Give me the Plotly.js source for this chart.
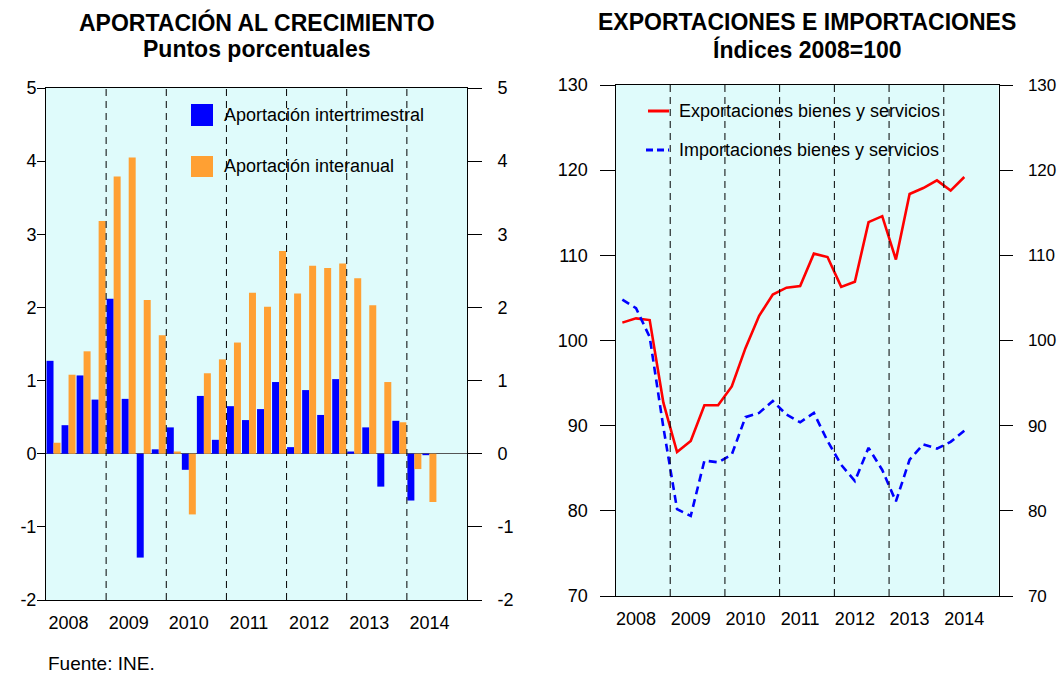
<!DOCTYPE html>
<html><head><meta charset="utf-8">
<script src="https://cdn.plot.ly/plotly-3.0.1.min.js"></script>
<style>html,body{margin:0;padding:0;background:#fff}#chart{width:1061px;height:674px}</style>
</head><body><div id="chart"></div>
<script>
// ---- data ----
const years = [2008, 2009, 2010, 2011, 2012, 2013, 2014];
const quarters = [
  "2008T1","2008T2","2008T3","2008T4",
  "2009T1","2009T2","2009T3","2009T4",
  "2010T1","2010T2","2010T3","2010T4",
  "2011T1","2011T2","2011T3","2011T4",
  "2012T1","2012T2","2012T3","2012T4",
  "2013T1","2013T2","2013T3","2013T4",
  "2014T1","2014T2"
];
const aportIntertrimestral = [
  1.27, 0.39, 1.07, 0.74,
  2.12, 0.75, -1.42, 0.06,
  0.36, -0.22, 0.79, 0.19,
  0.65, 0.46, 0.61, 0.98,
  0.09, 0.87, 0.53, 1.02,
  0.03, 0.36, -0.45, 0.45,
  -0.64, -0.02
];
const aportInteranual = [
  0.15, 1.08, 1.40, 3.18,
  3.79, 4.05, 2.10, 1.62,
  0.03, -0.83, 1.10, 1.29,
  1.52, 2.20, 2.01, 2.77,
  2.19, 2.57, 2.54, 2.60,
  2.40, 2.03, 0.98, 0.43,
  -0.21, -0.66
];
const exportaciones = [
  102.1, 102.6, 102.4, 92.7,
  86.9, 88.2, 92.4, 92.4,
  94.6, 99.1, 102.9, 105.4,
  106.2, 106.4, 110.2, 109.8,
  106.3, 106.9, 113.9, 114.6,
  109.5, 117.2, 117.9, 118.8,
  117.6, 119.2
];
const importaciones = [
  104.8, 103.8, 100.4, 89.8,
  80.2, 79.4, 85.9, 85.7,
  86.6, 91.0, 91.5, 92.9,
  91.3, 90.4, 91.5, 88.2,
  85.4, 83.5, 87.4, 84.8,
  81.1, 86.0, 87.8, 87.3,
  88.1, 89.4
];
const leftTicks = [-2, -1, 0, 1, 2, 3, 4, 5];
const rightTicks = [70, 80, 90, 100, 110, 120, 130];

// ---- derived positions ----
const qpy = 4;
const xIdx = quarters.map((q, i) => i);
const nSlots = years.length * qpy;
const xRange = [-0.5, nSlots - 0.5];
const yearTickVals = years.map((y, k) => k * qpy + 1);
const yearTickText = years.map(String);
const boundaries = years.slice(1).map((y, k) => (k + 1) * qpy - 0.5);
const leftRange = [leftTicks[0], leftTicks[leftTicks.length - 1]];
const rightRange = [rightTicks[0], rightTicks[rightTicks.length - 1]];
const leftText = leftTicks.map(String);
const rightText = rightTicks.map(String);

const W = 1061, H = 674;
const px = v => v / W, py = v => 1 - v / H;
const FONT = "Liberation Sans, Arial, sans-serif";
const BG = "#dffbfb";

const traces = [
  { type: "bar", x: xIdx, y: aportIntertrimestral, xaxis: "x", yaxis: "y",
    name: "Aportación intertrimestral", marker: { color: "#0000ff", line: { width: 0 } }, showlegend: false },
  { type: "bar", x: xIdx, y: aportInteranual, xaxis: "x", yaxis: "y",
    name: "Aportación interanual", marker: { color: "#ffa033", line: { width: 0 } }, showlegend: false },
  { type: "scatter", mode: "markers", x: [0], y: [0], xaxis: "x", yaxis: "y2",
    opacity: 0, hoverinfo: "skip", showlegend: false },
  { type: "scatter", mode: "lines", x: xIdx, y: exportaciones, xaxis: "x2", yaxis: "y3",
    name: "Exportaciones bienes y servicios", line: { color: "#ff0000", width: 2.6 }, showlegend: false },
  { type: "scatter", mode: "lines", x: xIdx, y: importaciones, xaxis: "x2", yaxis: "y3",
    name: "Importaciones bienes y servicios", line: { color: "#0000ff", width: 2.6, dash: "8px,5px" }, showlegend: false },
  { type: "scatter", mode: "markers", x: [0], y: [100], xaxis: "x2", yaxis: "y4",
    opacity: 0, hoverinfo: "skip", showlegend: false }
];

const tickFont = { family: FONT, size: 18, color: "#000" };
const xCommon = {
  range: xRange, tickmode: "array", tickvals: yearTickVals, ticktext: yearTickText,
  ticks: "", showline: true, mirror: true, linecolor: "#000", linewidth: 1,
  showgrid: false, zeroline: false, tickfont: tickFont, ticklabelstandoff: 6, fixedrange: true
};
const yCommon = {
  ticks: "outside", tickcolor: "#000", tickwidth: 1, showline: true, linecolor: "#000", linewidth: 1,
  showgrid: false, tickfont: tickFont, fixedrange: true, tickmode: "array"
};

const shapes = [];
boundaries.forEach(b => {
  shapes.push({ type: "line", xref: "x", yref: "y domain", x0: b, x1: b, y0: 0, y1: 1,
    line: { color: "#000", width: 1, dash: "7px,5px" }, layer: "above" });
  shapes.push({ type: "line", xref: "x2", yref: "y3 domain", x0: b, x1: b, y0: 0, y1: 1,
    line: { color: "#000", width: 1, dash: "7px,5px" }, layer: "above" });
});
// legend symbols
shapes.push({ type: "rect", xref: "paper", yref: "paper", x0: px(191), x1: px(213), y0: py(126), y1: py(104),
  fillcolor: "#0000ff", line: { width: 0 } });
shapes.push({ type: "rect", xref: "paper", yref: "paper", x0: px(191), x1: px(213), y0: py(177), y1: py(156),
  fillcolor: "#ffa033", line: { width: 0 } });
shapes.push({ type: "line", xref: "paper", yref: "paper", x0: px(648), x1: px(669), y0: py(111), y1: py(111),
  line: { color: "#ff0000", width: 3 } });
shapes.push({ type: "line", xref: "paper", yref: "paper", x0: px(646), x1: px(669), y0: py(150), y1: py(150),
  line: { color: "#0000ff", width: 3, dash: "7px,4px" } });

const ann = (text, x, y, opts) => Object.assign({
  text, xref: "paper", yref: "paper", x: px(x), y: py(y), showarrow: false,
  xanchor: "left", yanchor: "middle", font: { family: FONT, size: 18, color: "#000" }
}, opts || {});
const titleFont = { family: FONT, size: 23, color: "#000", weight: "bold" };

const annotations = [
  ann("APORTACIÓN AL CRECIMIENTO", 256.5, 22, { xanchor: "center", font: titleFont }),
  ann("Puntos porcentuales", 256.5, 49, { xanchor: "center", font: titleFont }),
  ann("EXPORTACIONES E IMPORTACIONES", 807, 22, { xanchor: "center", font: titleFont }),
  ann("Índices 2008=100", 807, 49, { xanchor: "center", font: titleFont }),
  ann("Aportación intertrimestral", 222, 115),
  ann("Aportación interanual", 222, 166),
  ann("Exportaciones bienes y servicios", 677, 111),
  ann("Importaciones bienes y servicios", 677, 150),
  ann("Fuente: INE.", 46, 663, { font: { family: FONT, size: 19, color: "#000" } })
];

const layout = {
  width: W, height: H,
  margin: { l: 0, r: 0, t: 0, b: 0 },
  paper_bgcolor: "#ffffff", plot_bgcolor: BG,
  barmode: "group", bargap: 0.07, bargroupgap: 0,
  showlegend: false,
  font: { family: FONT, size: 18, color: "#000" },
  xaxis: Object.assign({}, xCommon, { domain: [px(46), px(467)], anchor: "y" }),
  yaxis: Object.assign({}, yCommon, { domain: [py(600), py(88)], anchor: "x", range: leftRange,
    tickvals: leftTicks, ticktext: leftText, ticklen: 8, ticklabelstandoff: -3,
    zeroline: true, zerolinecolor: "#555", zerolinewidth: 1 }),
  yaxis2: Object.assign({}, yCommon, { overlaying: "y", side: "right", anchor: "x", range: leftRange,
    tickvals: leftTicks, ticktext: leftText, ticklen: 14, zeroline: false, ticklabelstandoff: 12 }),
  xaxis2: Object.assign({}, xCommon, { domain: [px(615.5), px(998.5)], anchor: "y3" }),
  yaxis3: Object.assign({}, yCommon, { domain: [py(596), py(85)], anchor: "x2", range: rightRange,
    tickvals: rightTicks, ticktext: rightText, ticklen: 15, zeroline: false, ticklabelstandoff: 8 }),
  yaxis4: Object.assign({}, yCommon, { overlaying: "y3", side: "right", anchor: "x2", range: rightRange,
    tickvals: rightTicks, ticktext: rightText, ticklen: 13, zeroline: false, ticklabelstandoff: 12,
    tickfont: { family: FONT, size: 17, color: "#000" } }),
  shapes, annotations
};

Plotly.newPlot("chart", traces, layout, { staticPlot: true, displayModeBar: false });
</script>
</body></html>
